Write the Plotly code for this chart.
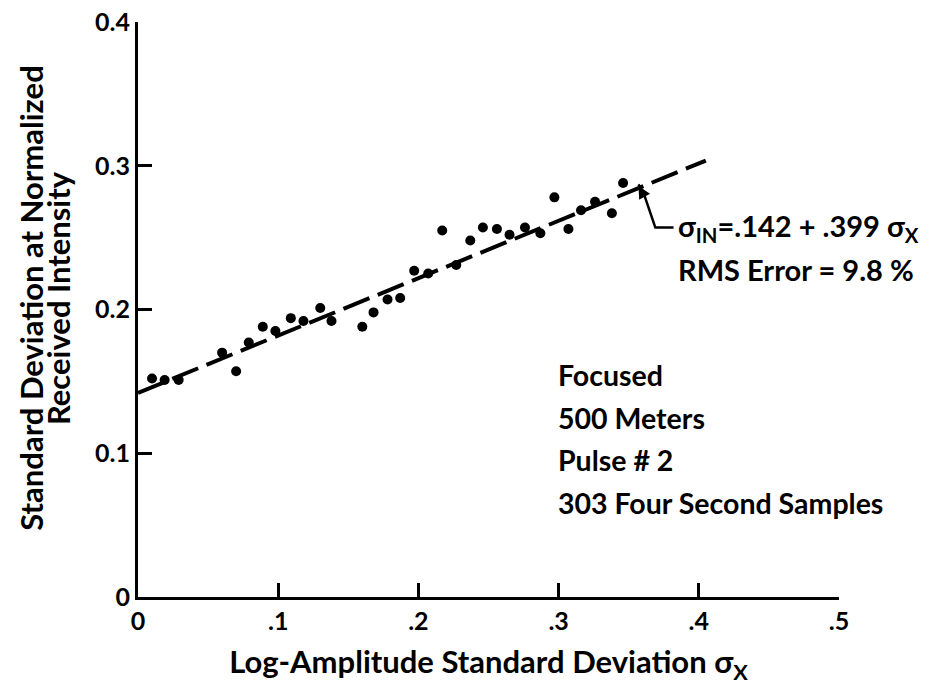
import plotly.graph_objects as go

# Measured samples: log-amplitude std dev (x) vs std dev of normalized intensity (y)
sigma_x = [0.010, 0.019, 0.029, 0.060, 0.070, 0.079, 0.089, 0.098, 0.109, 0.118,
           0.130, 0.138, 0.160, 0.168, 0.178, 0.187, 0.197, 0.207, 0.217, 0.227,
           0.237, 0.246, 0.256, 0.265, 0.276, 0.287, 0.297, 0.307, 0.316, 0.326,
           0.338, 0.346]
sigma_i = [0.152, 0.151, 0.151, 0.170, 0.157, 0.177, 0.188, 0.185, 0.194, 0.192,
           0.201, 0.192, 0.188, 0.198, 0.207, 0.208, 0.227, 0.225, 0.255, 0.231,
           0.248, 0.257, 0.256, 0.252, 0.257, 0.253, 0.278, 0.256, 0.269, 0.275,
           0.267, 0.288]

# Regression line sigma_IN = .142 + .399 sigma_X
fit_intercept = 0.142
fit_slope = 0.399
fit_x = [0.0, 0.405]
fit_y = [fit_intercept + fit_slope * v for v in fit_x]

x_ticks = [0, 0.1, 0.2, 0.3, 0.4, 0.5]
x_tick_labels = ["0", ".1", ".2", ".3", ".4", ".5"]
y_ticks = [0, 0.1, 0.2, 0.3, 0.4]
y_tick_labels = ["0", "0.1", "0.2", "0.3", "0.4"]

notes = ["Focused", "500 Meters", "Pulse # 2", "303 Four Second Samples"]
note_y = [0.1547, 0.1247, 0.0955, 0.0655]

FONT = "Lato"
def F(size):
    return dict(family=FONT, size=size, color="black", weight="bold")

fig = go.Figure()
fig.add_trace(go.Scatter(x=fit_x, y=fit_y, mode="lines",
                         line=dict(color="black", width=4, dash="28px,9px"),
                         hoverinfo="skip", showlegend=False))
fig.add_trace(go.Scatter(x=sigma_x, y=sigma_i, mode="markers",
                         marker=dict(color="black", size=10),
                         showlegend=False))

# leader line from equation to fitted line
fig.add_shape(type="path",
              path="M 0.382 0.257 L 0.369 0.257 L 0.361 0.280 L 0.357 0.287",
              line=dict(color="black", width=2.5), xref="x", yref="y")
fig.add_annotation(x=0.357, y=0.286, ax=0.361, ay=0.279, xref="x", yref="y",
                   axref="x", ayref="y", text="", showarrow=True,
                   arrowhead=2, arrowsize=1, arrowwidth=2.5, arrowcolor="black")

fig.add_annotation(x=0.3836, y=0.257, xref="x", yref="y", xanchor="left", yanchor="middle",
                   text="σ<sub>IN</sub>=.142 + .399 σ<sub>X</sub>", showarrow=False,
                   font=F(29))
fig.add_annotation(x=0.3836, y=0.228, xref="x", yref="y", xanchor="left", yanchor="middle",
                   text="RMS Error = 9.8 %", showarrow=False, font=F(29))

for t, yy in zip(notes, note_y):
    fig.add_annotation(x=0.298, y=yy, xref="x", yref="y", xanchor="left", yanchor="middle",
                       text=t, showarrow=False, font=F(28.5))

# y-axis title (two lines, drawn as rotated text)
fig.add_annotation(x=-0.153, y=0.52, xref="paper", yref="paper", xanchor="center",
                   yanchor="middle", textangle=-90, showarrow=False,
                   text="Standard Deviation at Normalized", font=F(31))
fig.add_annotation(x=-0.114, y=0.52, xref="paper", yref="paper", xanchor="center",
                   yanchor="middle", textangle=-90, showarrow=False,
                   text="Received Intensity", font=F(31))

# page body adds an 8px offset, so the figure is 8px smaller than the window
fig.update_layout(
    width=924, height=680,
    margin=dict(l=130, r=93, t=14, b=91),
    paper_bgcolor="white", plot_bgcolor="white",
    font=F(25),
    xaxis=dict(range=[0, 0.5], tickvals=x_ticks, ticktext=x_tick_labels,
               showgrid=False, zeroline=False, showline=True, linecolor="black",
               linewidth=3, ticks="inside", ticklen=14, tickwidth=2.5, tickcolor="black",
               tickfont=F(25), automargin=False, ticklabeloverflow="allow",
               title=dict(text="Log-Amplitude Standard Deviation σ<sub>X</sub>",
                          font=F(31), standoff=18)),
    yaxis=dict(range=[0, 0.4], tickvals=y_ticks, ticktext=y_tick_labels,
               showgrid=False, zeroline=False, showline=True, linecolor="black",
               linewidth=3, ticks="inside", ticklen=14, tickwidth=2.5, tickcolor="black",
               tickfont=F(25), automargin=False, ticklabeloverflow="allow"),
)

fig.write_html("out.html")
